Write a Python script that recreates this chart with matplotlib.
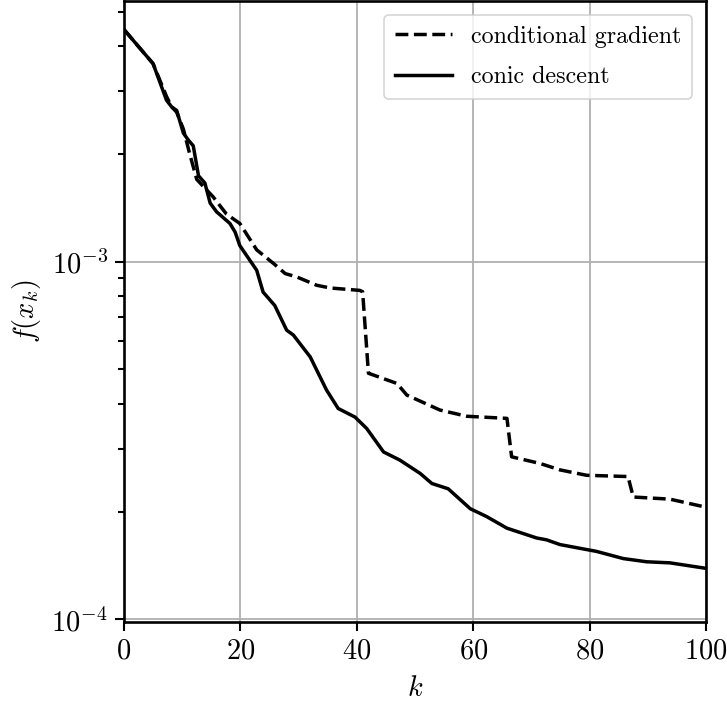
import matplotlib
matplotlib.use("Agg")
import matplotlib.pyplot as plt

plt.rcParams['mathtext.fontset'] = 'cm'
plt.rcParams['font.family'] = 'serif'
plt.rcParams['font.serif'] = ['cmr10', 'DejaVu Serif']
plt.rcParams['axes.formatter.use_mathtext'] = True
plt.rcParams['axes.unicode_minus'] = False

# conic descent (solid)
k_cd = [0, 5.0, 7.3, 8.2, 9.05, 10.2, 11.05, 11.9, 12.8, 13.9, 14.8, 15.9, 18.2, 19.1,
        19.9, 22.8, 23.9, 25.9, 27.95, 29.1, 32, 34.8, 36.8, 39.7, 41.7, 44.6, 47.4,
        50.9, 52.9, 55.7, 59.5, 62.3, 65.8, 70.9, 72.6, 74.9, 81.2, 85.8, 89.8, 93.8, 100]
f_cd = [4.46e-3, 3.58e-3, 2.83e-3, 2.71e-3, 2.65e-3, 2.29e-3, 2.19e-3, 2.11e-3, 1.74e-3,
        1.66e-3, 1.46e-3, 1.38e-3, 1.28e-3, 1.21e-3, 1.11e-3, 9.47e-4, 8.23e-4, 7.55e-4,
        6.44e-4, 6.24e-4, 5.42e-4, 4.38e-4, 3.89e-4, 3.68e-4, 3.42e-4, 2.94e-4, 2.79e-4,
        2.56e-4, 2.40e-4, 2.32e-4, 2.04e-4, 1.94e-4, 1.80e-4, 1.69e-4, 1.67e-4, 1.62e-4,
        1.55e-4, 1.48e-4, 1.45e-4, 1.44e-4, 1.39e-4]

# conditional gradient (dashed)
k_cg = [0, 5.0, 7.3, 8.2, 9.05, 10.2, 11.3, 12.5, 15.3, 17.6, 19.9, 22.8, 25.7, 27.7,
        29.7, 33.1, 35.4, 40.5, 41.0, 42.0, 46.9, 48.6, 54.3, 58.9, 65.8, 66.6, 71.5,
        74.9, 79.5, 86.6, 87.5, 93.8, 100]
f_cg = [4.46e-3, 3.58e-3, 2.90e-3, 2.71e-3, 2.62e-3, 2.35e-3, 2.00e-3, 1.70e-3, 1.52e-3,
        1.36e-3, 1.28e-3, 1.08e-3, 9.89e-4, 9.27e-4, 9.07e-4, 8.60e-4, 8.45e-4, 8.32e-4,
        8.25e-4, 4.88e-4, 4.57e-4, 4.24e-4, 3.85e-4, 3.70e-4, 3.65e-4, 2.85e-4, 2.73e-4,
        2.62e-4, 2.53e-4, 2.51e-4, 2.20e-4, 2.17e-4, 2.06e-4]

fig = plt.figure(figsize=(7.27, 7.05), dpi=100)
ax = fig.add_axes([124/727, 1 - 622/705, (706-124)/727, (622-1)/705])

ax.plot(k_cg, f_cg, 'k--', lw=2.5, label='conditional gradient')
ax.plot(k_cd, f_cd, 'k-', lw=2.5, label='conic descent')
ax.set_yscale('log')
ax.set_xlim(0, 100)
ax.set_ylim(9.84e-5, 5.36e-3)
ax.set_xticks([0, 20, 40, 60, 80, 100])
ax.grid(True, which='major', color='#b0b0b0', lw=1.3)
ax.tick_params(which='major', labelsize=20.5, length=6.5, width=1.5, pad=5)
ax.tick_params(which='minor', length=4, width=1.5)
for s in ax.spines.values():
    s.set_linewidth(1.9)
ax.set_xlabel('$k$', fontsize=20.5, labelpad=8)
ax.set_ylabel('$f(x_k)$', fontsize=20.5, labelpad=6)
leg = ax.legend(loc='upper right', fontsize=17.3, handlelength=2.35, handletextpad=0.8,
                labelspacing=0.75, borderpad=0.45, borderaxespad=0.58)
leg.get_frame().set_linewidth(1.2)

fig.savefig('out.png', dpi=100)
